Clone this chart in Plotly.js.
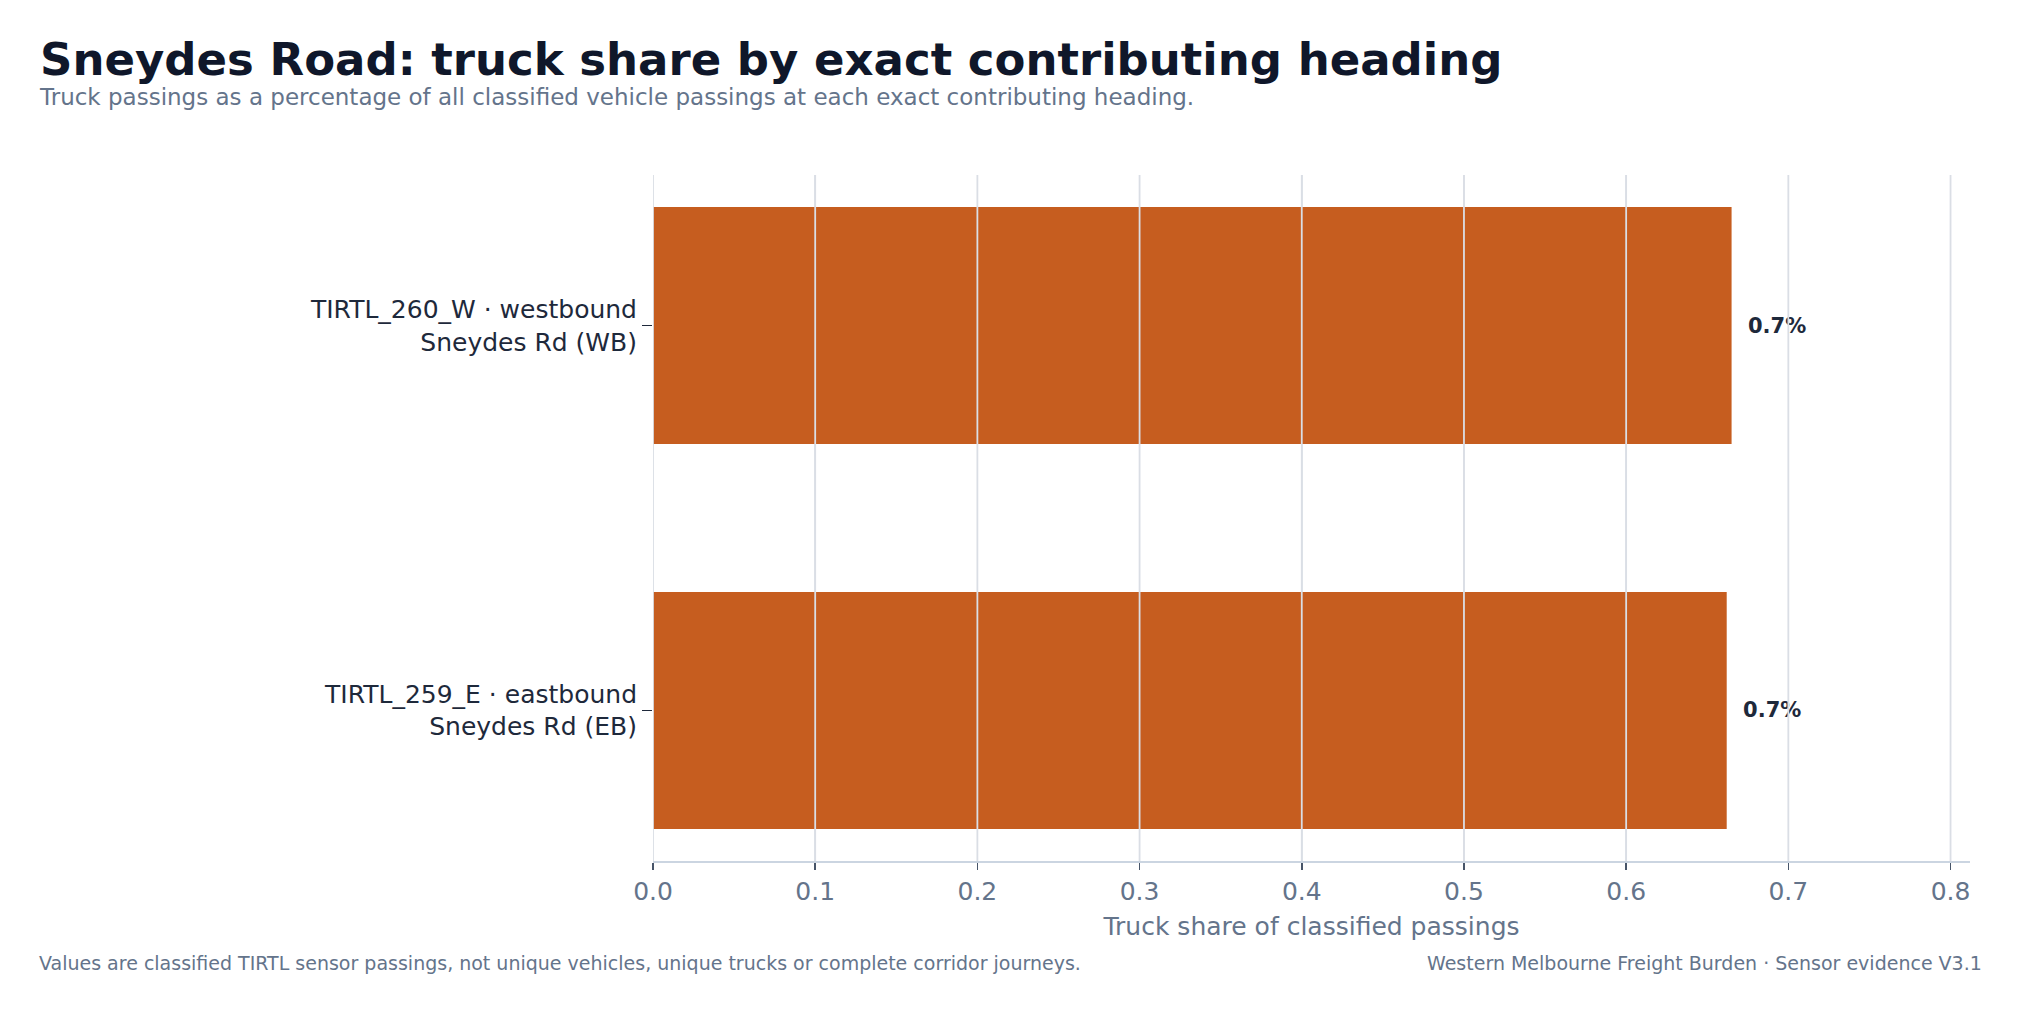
<!DOCTYPE html>
<html>
<head>
<meta charset="utf-8">
<script src="https://cdn.plot.ly/plotly-3.0.1.min.js"></script>
<style>
  html, body { margin: 0; padding: 0; background: #ffffff; }
  #chart { width: 2021px; height: 1013px; }
</style>
</head>
<body>
<div id="chart"></div>
<script>
// headings, bottom to top
var headings = [
  'TIRTL_259_E · eastbound<br>Sneydes Rd (EB)',
  'TIRTL_260_W · westbound<br>Sneydes Rd (WB)'
];
var truckShare = [0.662, 0.665];
var xTicks = [0, 0.1, 0.2, 0.3, 0.4, 0.5, 0.6, 0.7, 0.8];
var xTickText = ['0.0', '0.1', '0.2', '0.3', '0.4', '0.5', '0.6', '0.7', '0.8'];

var font = 'DejaVu Sans, Liberation Sans, sans-serif';

var trace = {
  type: 'bar',
  orientation: 'h',
  x: truckShare,
  y: headings,
  width: 0.616,
  marker: { color: '#c65d1f', line: { width: 0 } },
  texttemplate: '&nbsp;&nbsp;<b>%{x:.1f}%</b>',
  textposition: 'outside',
  textfont: { family: font, size: 21, color: '#1e293b' },
  cliponaxis: false,
  hoverinfo: 'skip'
};

// the reference draws its vertical grid over the bars
var gridShapes = xTicks.map(function (v) {
  return {
    type: 'line', xref: 'x', yref: 'paper',
    x0: v, x1: v, y0: 0, y1: 1,
    layer: 'above',
    line: { color: '#dadee5', width: 1.8 }
  };
});

var layout = {
  width: 2021,
  height: 1013,
  paper_bgcolor: '#ffffff',
  plot_bgcolor: '#ffffff',
  margin: { l: 653, r: 51, t: 175, b: 152 },
  showlegend: false,
  font: { family: font, color: '#475569' },
  title: {
    text: '<b>Sneydes Road: truck share by exact contributing heading</b>',
    font: { family: font, size: 45, color: '#0f172a' },
    x: 40 / 2021, xref: 'container', xanchor: 'left',
    y: 1 - 59 / 1013, yref: 'container', yanchor: 'middle'
  },
  xaxis: {
    range: [0, 0.812],
    tickvals: xTicks,
    ticktext: xTickText,
    tickfont: { family: font, size: 25, color: '#64748b' },
    ticks: 'outside', ticklen: 7, tickwidth: 1.5, tickcolor: '#475569',
    showgrid: true, gridcolor: '#e2e6ed', gridwidth: 1.5,
    zeroline: false,
    showline: true, linecolor: '#cbd5e1', linewidth: 2,
    layer: 'above traces',
    title: {
      text: 'Truck share of classified passings',
      font: { family: font, size: 25, color: '#64748b' },
      standoff: 12
    },
    fixedrange: true
  },
  yaxis: {
    type: 'category',
    range: [-0.391, 1.391],
    tickfont: { family: font, size: 25, color: '#1e293b' },
    ticks: 'outside', ticklen: 10, tickwidth: 1.5, tickcolor: '#1e293b',
    showgrid: false, zeroline: false, showline: false,
    fixedrange: true
  },
  shapes: gridShapes,
  annotations: [
    {
      text: 'Truck passings as a percentage of all classified vehicle passings at each exact contributing heading.',
      xref: 'paper', yref: 'paper',
      x: (37 - 653) / 1317, y: 1 + (175 - 97) / 686,
      xanchor: 'left', yanchor: 'middle', showarrow: false,
      font: { family: font, size: 23, color: '#64748b' }
    },
    {
      text: 'Values are classified TIRTL sensor passings, not unique vehicles, unique trucks or complete corridor journeys.',
      xref: 'paper', yref: 'paper',
      x: (37 - 653) / 1317, y: -(963 - 861) / 686,
      xanchor: 'left', yanchor: 'middle', showarrow: false,
      font: { family: font, size: 19, color: '#64748b' }
    },
    {
      text: 'Western Melbourne Freight Burden · Sensor evidence V3.1',
      xref: 'paper', yref: 'paper',
      x: 1 + (1984 - 1970) / 1317, y: -(963 - 861) / 686,
      xanchor: 'right', yanchor: 'middle', showarrow: false,
      font: { family: font, size: 19, color: '#64748b' }
    }
  ]
};

Plotly.newPlot('chart', [trace], layout, { displayModeBar: false, staticPlot: true });
</script>
</body>
</html>
